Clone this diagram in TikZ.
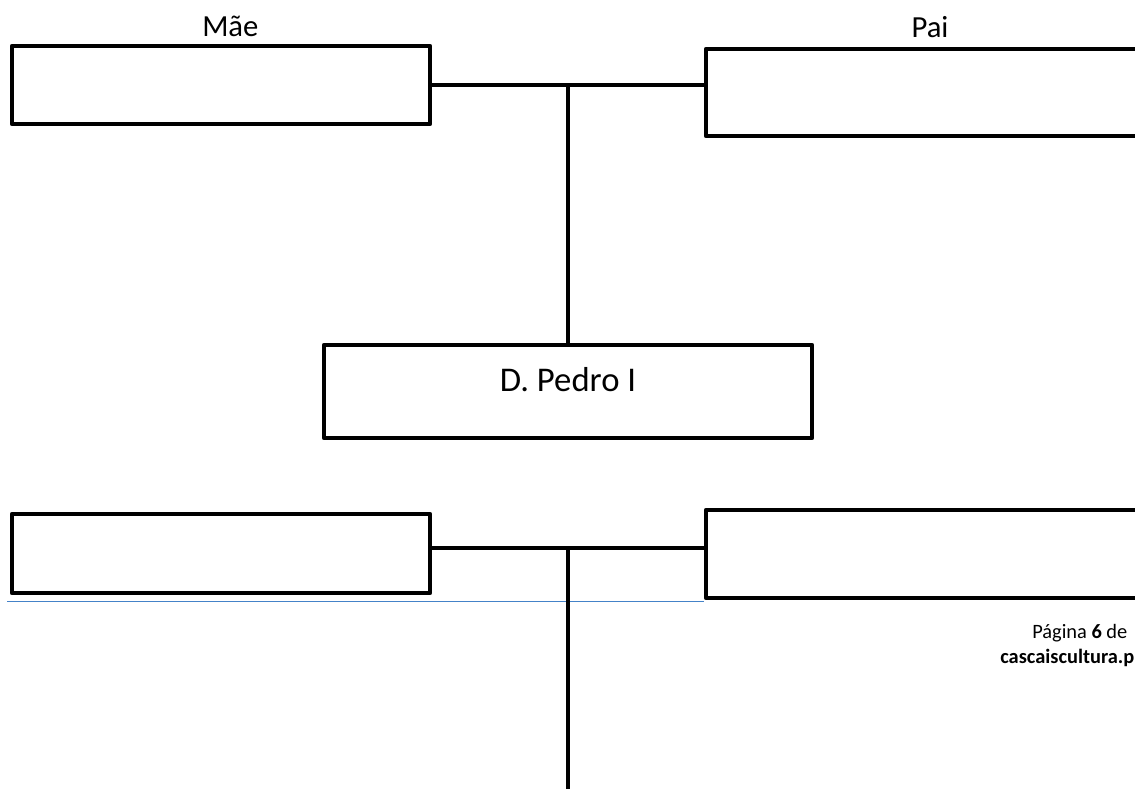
\documentclass[tikz,border=0pt]{standalone}
\usepackage{fontspec}
\setmainfont{Carlito}
\usepackage{tikz}
\usetikzlibrary{positioning}
\definecolor{ruleBlue}{RGB}{68,130,200}
\tikzset{
     famBox/.style =
        { rectangle
        , draw
        , line width=3.4pt
        , line join=round
        , inner sep=0pt
        }
   , famLine/.style =
        { line width=3.4pt
        }
   , footText/.style =
        { inner sep=0pt
        , anchor=base west
        , font=\fontsize{15.3}{18}\selectfont
        }
}

\begin{document}
\begin{tikzpicture}
            [ x=0.75pt
            , y=-0.75pt
            ]
            \clip (0,0) rectangle (1135,789);

            % upper couple and child
            \node[famBox, minimum width=313.5pt, minimum height=58.5pt
                 , label={[xshift=7pt, label distance=1.5pt, font=\fontsize{23}{28}\selectfont]above:Mãe}]
                 (mae) at (221,85) {};
            \node[famBox, minimum width=336pt, minimum height=65.25pt
                 , label={[label distance=3.5pt, font=\fontsize{23}{28}\selectfont]above:Pai}]
                 (pai) at (930,92.5) {};
            \node[famBox, minimum width=366pt, minimum height=69.75pt
                 , font=\fontsize{26}{31}\selectfont
                 , text height=0.7em, text depth=0.7em]
                 (pedro) at (568,391.5) {D. Pedro I};

            % lower couple
            \node[famBox, minimum width=313.5pt, minimum height=59.25pt]
                 (esq) at (221,553.5) {};
            \node[famBox, minimum width=336pt, minimum height=66pt]
                 (dir) at (930,554) {};

            \coordinate (wed1) at (mae.east -| pedro.north);
            \coordinate (wed2) at (568,548);
            \coordinate (fim) at (568,789);
            \coordinate (ruleStart) at (7,601.5);

            % page footer
            \draw[ruleBlue, line width=1pt] (ruleStart) -- (ruleStart -| dir.west);
            \node[footText] (pagina) at (1032,638) {Página \textbf{6} de};
            \node[footText] (site) at (1000,663) {\textbf{cascaiscultura.p}};

            \draw[famLine] (mae.east) -- (mae.east -| pai.west);
            \draw[famLine] (wed1) -- (pedro.north);
            \draw[famLine] (wed2 -| esq.east) -- (wed2 -| dir.west);
            \draw[famLine] (wed2) -- (fim);
        \end{tikzpicture}
\end{document}
